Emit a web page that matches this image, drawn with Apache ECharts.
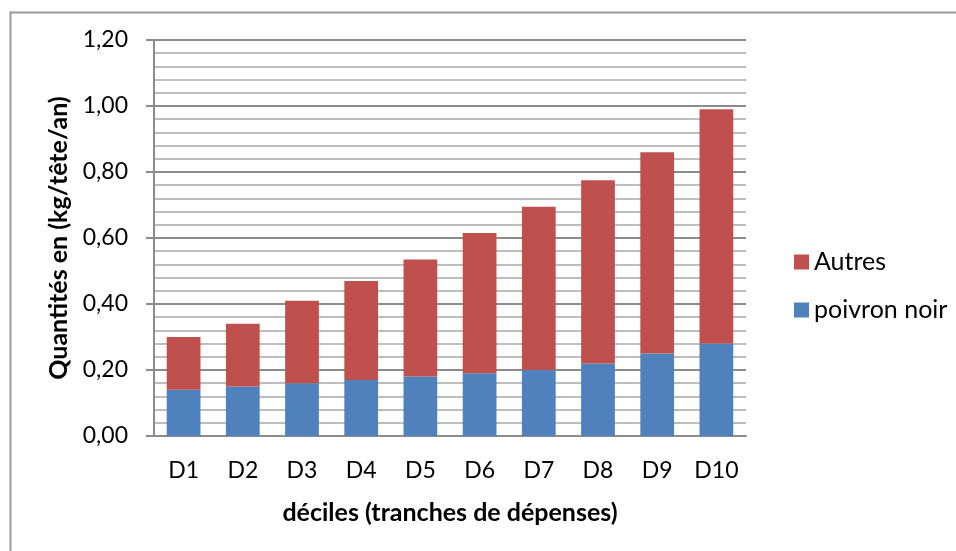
<!DOCTYPE html>
<html lang="fr">
<head>
    <meta charset="UTF-8">
    <title>Quantités par décile</title>
    <script src="https://cdn.jsdelivr.net/npm/echarts@6/dist/echarts.min.js"></script>
</head>
<body style="margin:0;background:#fff;">
<div id="main" style="width:956px;height:551px;"></div>
<script type="text/javascript">
    // données
    var deciles = ['D1', 'D2', 'D3', 'D4', 'D5', 'D6', 'D7', 'D8', 'D9', 'D10'];
    var poivronNoir = [0.14, 0.15, 0.16, 0.17, 0.18, 0.19, 0.20, 0.22, 0.25, 0.28];
    var autres = [0.16, 0.19, 0.25, 0.30, 0.355, 0.425, 0.495, 0.555, 0.61, 0.71];

    var police = 'Lato, "Open Sans", sans-serif';

    var myChart = echarts.init(document.getElementById('main'));
    myChart.setOption({
        animation: false,
        textStyle: {fontFamily: police, color: '#000'},
        graphic: [{
            type: 'rect',
            left: 8, top: 10,
            shape: {width: 960, height: 560},
            style: {fill: 'none', stroke: '#9a9a9a', lineWidth: 2}
        }],
        grid: {left: 154, right: 210, top: 40, bottom: 115},
        legend: {
            orient: 'vertical',
            left: 789, top: 244,
            itemWidth: 15, itemHeight: 15, itemGap: 22,
            icon: 'rect',
            data: ['Autres', 'poivron noir'],
            textStyle: {fontSize: 25, lineHeight: 26, fontFamily: police, color: '#000'}
        },
        xAxis: {
            type: 'category',
            data: deciles,
            name: 'déciles (tranches de dépenses)',
            nameLocation: 'middle',
            nameGap: 64,
            nameTextStyle: {fontSize: 25, fontWeight: 'bold', color: '#000'},
            axisLine: {lineStyle: {color: '#8c8c8c', width: 2}},
            axisTick: {show: false},
            axisLabel: {fontSize: 23, color: '#000', margin: 23}
        },
        yAxis: {
            type: 'value',
            min: 0, max: 1.2, interval: 0.2,
            name: 'Quantités en (kg/tête/an)',
            nameLocation: 'middle',
            nameGap: 80,
            nameTextStyle: {fontSize: 25, fontWeight: 'bold', color: '#000'},
            axisLine: {show: true, lineStyle: {color: '#8c8c8c', width: 2}},
            axisTick: {show: true, length: 8, lineStyle: {color: '#8c8c8c', width: 2}},
            axisLabel: {
                fontSize: 23, color: '#000', margin: 26,
                formatter: function (v) { return v.toFixed(2).replace('.', ','); }
            },
            splitLine: {lineStyle: {color: '#8c8c8c', width: 2}},
            minorTick: {show: false, splitNumber: 5},
            minorSplitLine: {show: true, lineStyle: {color: '#bdbdbd', width: 2}}
        },
        series: [{
            name: 'poivron noir',
            type: 'bar',
            stack: 'total',
            barWidth: '57%',
            itemStyle: {color: '#4F81BD'},
            data: poivronNoir
        }, {
            name: 'Autres',
            type: 'bar',
            stack: 'total',
            barWidth: '57%',
            itemStyle: {color: '#C0504D'},
            data: autres
        }]
    });
</script>
</body>
</html>
